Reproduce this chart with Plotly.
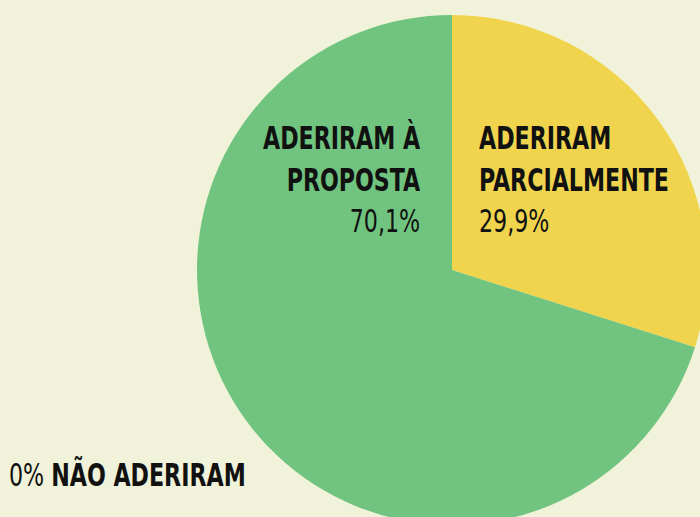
import plotly.graph_objects as go

labels = ["ADERIRAM PARCIALMENTE", "ADERIRAM À PROPOSTA", "NÃO ADERIRAM"]
values = [29.9, 70.1, 0.0]
value_text = ["29,9%", "70,1%", "0%"]
colors = ["#f0d44e", "#70c47f", "#e05050"]

W, H = 710, 530
BG = "#f0f3d9"
FONT = "DejaVu Sans Condensed, Liberation Sans Narrow, sans-serif"
SCALE_X = 0.77

fig = go.Figure(go.Pie(
    labels=labels, values=values, sort=False, direction="clockwise", rotation=0,
    marker=dict(colors=colors, line=dict(width=0)),
    textinfo="none", hoverinfo="label+value", showlegend=False,
    domain=dict(x=[197 / W, 707 / W], y=[5 / H, 515 / H]),
))

def px(x):
    return x / W

def py(y):
    return 1 - y / H

fs = 32
fig.add_annotation(x=px(423), y=py(117), xref="paper", yref="paper", xanchor="right", yanchor="top",
                   align="right", showarrow=False,
                   text="<b>ADERIRAM À<br>PROPOSTA</b><br>" + value_text[1],
                   font=dict(family=FONT, size=fs, color="#111"))
fig.add_annotation(x=px(477), y=py(117), xref="paper", yref="paper", xanchor="left", yanchor="top",
                   align="left", showarrow=False,
                   text="<b>ADERIRAM<br>PARCIALMENTE</b><br>" + value_text[0],
                   font=dict(family=FONT, size=fs, color="#111"))
fig.add_annotation(x=px(7), y=py(454), xref="paper", yref="paper", xanchor="left", yanchor="top",
                   align="left", showarrow=False,
                   text=value_text[2] + " <b>" + labels[2] + "</b>",
                   font=dict(family=FONT, size=fs, color="#111"))

fig.update_layout(width=W, height=H, margin=dict(l=0, r=0, t=0, b=0),
                  paper_bgcolor=BG, plot_bgcolor=BG)

post = """
document.body.style.margin='0';
document.body.style.overflow='hidden';
document.documentElement.style.overflow='hidden';
document.body.style.background='%s';
var origins = ['right', 'left', 'left'];
document.querySelectorAll('.annotation-text').forEach(function(t, i){
  t.style.transformBox = 'fill-box';
  t.style.transformOrigin = (origins[i] || 'left') + ' center';
  t.style.transform = 'scaleX(%s)';
});
""" % (BG, SCALE_X)

fig.write_html("out.html", config={"displayModeBar": False}, post_script=post)
